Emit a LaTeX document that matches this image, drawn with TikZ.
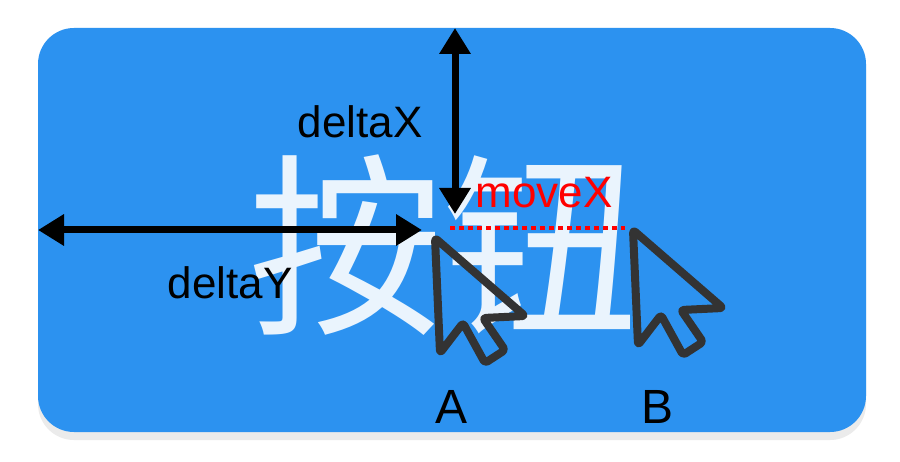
\documentclass[tikz,border=0pt]{standalone}
\usepackage{fontspec}
\setmainfont{Liberation Sans}
\newfontfamily\cjk{Noto Sans CJK SC}
\usetikzlibrary{arrows.meta}
\definecolor{btnblue}{HTML}{2C92F0}
\definecolor{cursorgray}{HTML}{333333}
\tikzset{
  dim/.style={line width=7pt,{Triangle[length=26pt,width=30pt]}-{Triangle[length=26pt,width=30pt]}},
  lbl/.style={font=\fontsize{44}{50}\selectfont,inner sep=0pt},
  ptr/.style={draw=cursorgray,line width=8pt,rounded corners=3pt,line join=round}
}
\newcommand\pointer[1]{%
  \draw[ptr] (#1) -- ++(5,115) -- ++(23,-30) -- ++(22,40) -- ++(20,-13)
    -- ++(-22,-32) -- ++(42,-2) -- cycle;}
\begin{document}
\begin{tikzpicture}[x=1pt,y=-1pt]
  \useasboundingbox (0,0) rectangle (900,462);
  \fill[white] (0,0) rectangle (900,462);
  % button
  \fill[black!8,rounded corners=36pt] (38,34) rectangle (866,440);
  \fill[btnblue,rounded corners=36pt] (38,28) rectangle (866,432);
  \node[text=white,opacity=0.9,font=\cjk\fontsize{195}{200}\selectfont,inner sep=0pt]
    (caption) at (443,245) {按钮};
  % pointers
  \coordinate (tipA) at (435,238);
  \coordinate (tipB) at (633,230);
  \pointer{tipA}
  \pointer{tipB}
  % dimensions
  \coordinate (top) at (455,28);
  \coordinate (bot) at (455,214);
  \coordinate (lft) at (38,230);
  \coordinate (rgt) at (422,230);
  \draw[dim] (top) -- (bot);
  \draw[dim] (lft) -- (rgt);
  \coordinate (mvs) at (450,228);
  \coordinate (mve) at (625,228);
  \draw[red,line width=4pt,dash pattern=on 5pt off 4pt] (mvs) -- (mve);
  % text
  \node[lbl] (dx) at (360,122) {deltaX};
  \node[lbl] (dy) at (230,283) {deltaY};
  \node[lbl,text=red] (mx) at (544,193) {moveX};
  \node[lbl,font=\fontsize{48}{52}\selectfont] (la) at (452,407) {A};
  \node[lbl,font=\fontsize{48}{52}\selectfont] (lb) at (658,407) {B};
\end{tikzpicture}
\end{document}
